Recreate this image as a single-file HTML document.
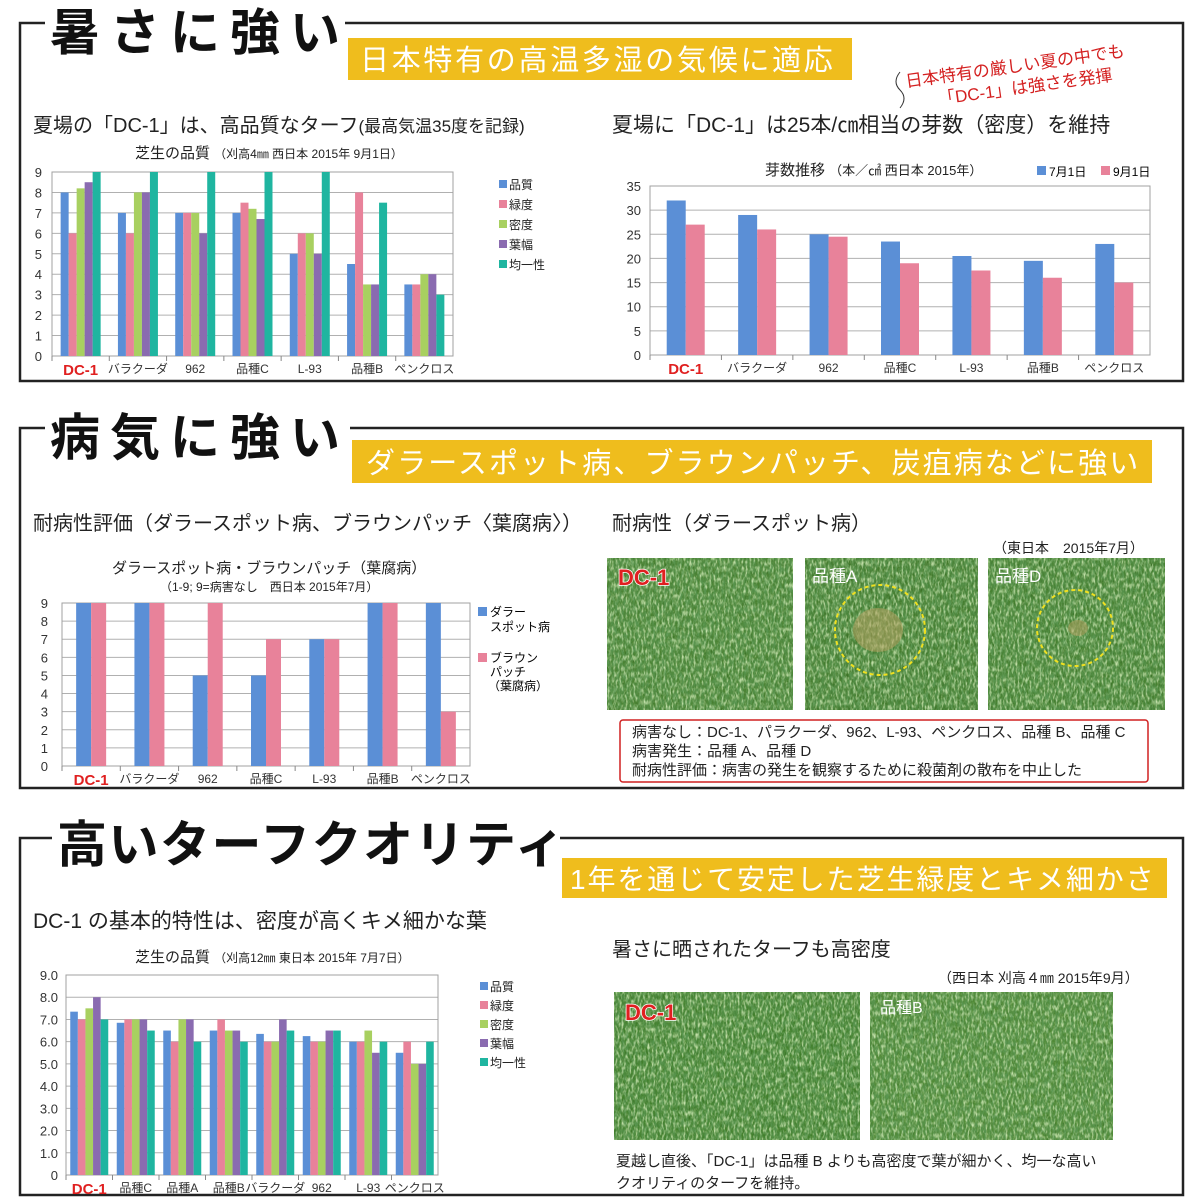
<!DOCTYPE html>
<html><head><meta charset="utf-8">
<style>
html,body{margin:0;padding:0;background:#fff;}
svg{display:block;font-family:"Liberation Sans","Noto Sans CJK JP",sans-serif;}
</style></head>
<body>
<svg id="s" width="1200" height="1200" viewBox="0 0 1200 1200" xmlns="http://www.w3.org/2000/svg">
<defs>
<filter id="grass" x="0" y="0" width="100%" height="100%">
<feTurbulence type="fractalNoise" baseFrequency="0.45 0.15" numOctaves="3" seed="4"/>
<feColorMatrix type="matrix" values="0 0 0 0 0.10  0 0 0 0 0.30  0 0 0 0 0.08  0 0 0 -2.2 1.6"/>
</filter>
<filter id="grassL" x="0" y="0" width="100%" height="100%">
<feTurbulence type="fractalNoise" baseFrequency="0.5 0.18" numOctaves="2" seed="11"/>
<feColorMatrix type="matrix" values="0 0 0 0 0.55  0 0 0 0 0.75  0 0 0 0 0.40  0 0 0 -2.5 1.4"/>
</filter>
<pattern id="blades" width="8" height="8" patternUnits="userSpaceOnUse">
<path d="M1 7 L3 1 M5 8 L6 3 M7 6 L8 2" stroke="#2f6120" stroke-width="0.8" opacity="0.5"/>
<path d="M2 4 L3 0 M6 7 L5 2" stroke="#8fc070" stroke-width="0.6" opacity="0.4"/>
</pattern>
</defs>
<rect x="20" y="23" width="1163" height="358" fill="none" stroke="#222" stroke-width="2.5"/>
<rect x="20" y="428" width="1163" height="360" fill="none" stroke="#222" stroke-width="2.5"/>
<rect x="20" y="838" width="1163" height="357" fill="none" stroke="#222" stroke-width="2.5"/>
<rect x="45" y="5" width="300" height="50" fill="#fff"/>
<rect x="45" y="405" width="305" height="60" fill="#fff"/>
<rect x="52" y="808" width="508" height="62" fill="#fff"/>
<text x="50" y="50" font-size="50" font-weight="bold" fill="#111" letter-spacing="10">暑さに強い</text>
<text x="50" y="455" font-size="50" font-weight="bold" fill="#111" letter-spacing="10">病気に強い</text>
<text x="57" y="862" font-size="50" font-weight="bold" fill="#111" letter-spacing="1.5">高いターフクオリティ</text>
<rect x="348" y="38" width="504" height="42" fill="#efbd1d"/>
<text x="360" y="70" font-size="29" fill="#fff" letter-spacing="2.7">日本特有の高温多湿の気候に適応</text>
<rect x="352" y="440" width="800" height="43" fill="#efbd1d"/>
<text x="366" y="473" font-size="29" fill="#fff" letter-spacing="2.1">ダラースポット病、ブラウンパッチ、炭疽病などに強い</text>
<rect x="562" y="858" width="605" height="40" fill="#efbd1d"/>
<text x="570" y="889" font-size="28" fill="#fff" letter-spacing="1.9">1年を通じて安定した芝生緑度とキメ細かさ</text>
<g transform="rotate(-8 1015 70)">
<text x="905" y="72" font-size="17" fill="#d42020">日本特有の厳しい夏の中でも</text>
<text x="935" y="94" font-size="17" fill="#d42020">「DC-1」は強さを発揮</text>
</g>
<path d="M900 72 q-8 10 0 18 q8 8 0 18" fill="none" stroke="#333" stroke-width="1"/>
<text x="33" y="132" font-size="20" fill="#222">夏場の「DC-1」は、高品質なターフ<tspan font-size="17">(最高気温35度を記録)</tspan></text>
<text x="612" y="132" font-size="21" fill="#222">夏場に「DC-1」は25本/㎝相当の芽数（密度）を維持</text>
<text x="135" y="158" font-size="15" fill="#222">芝生の品質 <tspan font-size="12">（刈高4㎜ 西日本 2015年 9月1日）</tspan></text>
<text x="765" y="175" font-size="15" fill="#222">芽数推移 <tspan font-size="13">（本／㎠ 西日本  2015年）</tspan></text>
<rect x="1037" y="166" width="9" height="9" fill="#5b8fd6"/><text x="1049" y="176" font-size="12">7月1日</text>
<rect x="1101" y="166" width="9" height="9" fill="#e8829a"/><text x="1113" y="176" font-size="12">9月1日</text>

<text x="33" y="530" font-size="20" fill="#222">耐病性評価（ダラースポット病、ブラウンパッチ〈葉腐病〉）</text>
<text x="112" y="573" font-size="15" fill="#222">ダラースポット病・ブラウンパッチ（葉腐病）</text>
<text x="160" y="591" font-size="12" fill="#222">（1-9; 9=病害なし　西日本  2015年7月）</text>
<text x="612" y="530" font-size="20" fill="#222">耐病性（ダラースポット病）</text>
<text x="993" y="553" font-size="14" fill="#222">（東日本　2015年7月）</text>

<text x="33" y="928" font-size="21" fill="#222">DC-1 の基本的特性は、密度が高くキメ細かな葉</text>
<text x="135" y="962" font-size="15" fill="#222">芝生の品質 <tspan font-size="12">（刈高12㎜ 東日本 2015年 7月7日）</tspan></text>
<text x="612" y="956" font-size="20" fill="#222">暑さに晒されたターフも高密度</text>
<text x="938" y="983" font-size="14" fill="#222">（西日本 刈高４㎜ 2015年9月）</text>

<rect x="478" y="607" width="9" height="9" fill="#5b8fd6"/><text x="490" y="616" font-size="12">ダラー</text><text x="490" y="631" font-size="12">スポット病</text>
<rect x="478" y="653" width="9" height="9" fill="#e8829a"/><text x="490" y="662" font-size="12">ブラウン</text><text x="490" y="676" font-size="12">パッチ</text><text x="488" y="690" font-size="12">（葉腐病）</text>

<g>
<rect x="607" y="558" width="186" height="152" fill="#4a8232"/><rect x="607" y="558" width="186" height="152" fill="url(#blades)"/><rect x="607" y="558" width="186" height="152" filter="url(#grass)"/><rect x="607" y="558" width="186" height="152" filter="url(#grassL)"/>
<rect x="805" y="558" width="173" height="152" fill="#447c2e"/><rect x="805" y="558" width="173" height="152" fill="url(#blades)"/><rect x="805" y="558" width="173" height="152" filter="url(#grass)"/><rect x="805" y="558" width="173" height="152" filter="url(#grassL)"/>
<rect x="988" y="558" width="177" height="152" fill="#468030"/><rect x="988" y="558" width="177" height="152" fill="url(#blades)"/><rect x="988" y="558" width="177" height="152" filter="url(#grass)"/><rect x="988" y="558" width="177" height="152" filter="url(#grassL)"/>
<ellipse cx="878" cy="630" rx="25" ry="22" fill="#b5a060" opacity="0.55"/>
<ellipse cx="1078" cy="628" rx="10" ry="8" fill="#b5a060" opacity="0.5"/>
<circle cx="880" cy="630" r="45" fill="none" stroke="#f0e020" stroke-width="2" stroke-dasharray="4 3"/>
<circle cx="1075" cy="628" r="38" fill="none" stroke="#f0e020" stroke-width="2" stroke-dasharray="4 3"/>
<text x="618" y="585" font-size="22" font-weight="bold" fill="#e02020" stroke="#fff" stroke-width="1.5" paint-order="stroke">DC-1</text>
<text x="812" y="582" font-size="17" fill="#fff">品種A</text>
<text x="995" y="582" font-size="17" fill="#fff">品種D</text>
<rect x="614" y="992" width="246" height="148" fill="#42802c"/><rect x="614" y="992" width="246" height="148" fill="url(#blades)"/><rect x="614" y="992" width="246" height="148" filter="url(#grass)"/><rect x="614" y="992" width="246" height="148" filter="url(#grassL)"/>
<rect x="870" y="992" width="243" height="148" fill="#518a36"/><rect x="870" y="992" width="243" height="148" fill="url(#blades)"/><rect x="870" y="992" width="243" height="148" filter="url(#grass)"/><rect x="870" y="992" width="243" height="148" filter="url(#grassL)"/>
<text x="625" y="1020" font-size="22" font-weight="bold" fill="#e02020" stroke="#fff" stroke-width="1.5" paint-order="stroke">DC-1</text>
<text x="880" y="1013" font-size="16" fill="#fff">品種B</text>
</g>
<rect x="620" y="720" width="528" height="62" fill="#fff" stroke="#d02020" stroke-width="1.5" rx="3"/>
<text x="632" y="737" font-size="15" fill="#222">病害なし：DC-1、パラクーダ、962、L-93、ペンクロス、品種 B、品種 C</text>
<text x="632" y="756" font-size="15" fill="#222">病害発生：品種 A、品種 D</text>
<text x="632" y="775" font-size="15" fill="#222">耐病性評価：病害の発生を観察するために殺菌剤の散布を中止した</text>
<text x="616" y="1166" font-size="15" fill="#222">夏越し直後、「DC-1」は品種 B よりも高密度で葉が細かく、均一な高い</text>
<text x="616" y="1188" font-size="15" fill="#222">クオリティのターフを維持。</text>
<g id="charts"></g>
</svg>
<script>
var NS="http://www.w3.org/2000/svg",G=document.getElementById("charts");
function el(t,a,txt){var e=document.createElementNS(NS,t);for(var k in a)e.setAttribute(k,a[k]);if(txt!=null)e.textContent=txt;G.appendChild(e);return e;}
var C=["#5b8fd6","#e8829a","#a8d060","#8a6bb0","#1fb5a0"];
function chart(o){
 var x0=o.x0,x1=o.x1,yt=o.yt,yb=o.yb,n=o.data.length,gw=(x1-x0)/n;
 var steps=o.max/o.step;
 for(var i=0;i<=steps;i++){var y=yb-(yb-yt)*i/steps;
  el("line",{x1:x0,x2:x1,y1:y,y2:y,stroke:"#b0b0b0","stroke-width":1});
  el("text",{x:o.lx,y:y+5,"font-size":13,fill:"#333","text-anchor":"end"},o.fmt?o.fmt(i*o.step):String(i*o.step));}
 el("rect",{x:x0,y:yt,width:x1-x0,height:yb-yt,fill:"none",stroke:"#a0a0a0"});
 for(var g=0;g<n;g++){var d=o.data[g],tot=d.length*o.bw,bx=x0+g*gw+(gw-tot)/2;
  for(var j=0;j<d.length;j++){var h=(yb-yt)*d[j]/o.max;
   el("rect",{x:bx+j*o.bw,y:yb-h,width:o.bw,height:h,fill:o.cols[j]});}
  el("line",{x1:x0+g*gw,x2:x0+g*gw,y1:yb,y2:yb+5,stroke:"#888"});
  var lab=o.labels[g],cx=x0+g*gw+gw/2;
  if(g==0)el("text",{x:cx,y:yb+19,"font-size":15,"font-weight":"bold",fill:"#e02020","text-anchor":"middle"},lab);
  else el("text",{x:cx,y:yb+17,"font-size":12,fill:"#333","text-anchor":"middle"},lab);}
 if(o.leg){o.leg.forEach(function(t,i){var y=o.ly+i*o.lsp;
  el("rect",{x:o.lgx,y:y-9,width:8,height:8,fill:C[i]});
  el("text",{x:o.lgx+10,y:y,"font-size":12,fill:"#222"},t);});}
}
var L5=["品質","緑度","密度","葉幅","均一性"];
chart({x0:52,x1:453,yt:172,yb:356,max:9,step:1,lx:42,bw:8,cols:C,
 data:[[8,6,8.2,8.5,9],[7,6,8,8,9],[7,7,7,6,9],[7,7.5,7.2,6.7,9],[5,6,6,5,9],[4.5,8,3.5,3.5,7.5],[3.5,3.5,4,4,3]],
 labels:["DC-1","バラクーダ","962","品種C","L-93","品種B","ペンクロス"],leg:L5,lgx:499,ly:189,lsp:20});
chart({x0:650,x1:1150,yt:186,yb:355,max:35,step:5,lx:641,bw:19,cols:[C[0],C[1]],
 data:[[32,27],[29,26],[25,24.5],[23.5,19],[20.5,17.5],[19.5,16],[23,15]],
 labels:["DC-1","バラクーダ","962","品種C","L-93","品種B","ペンクロス"]});
chart({x0:62,x1:470,yt:603,yb:766,max:9,step:1,lx:48,bw:15,cols:[C[0],C[1]],
 data:[[9,9],[9,9],[5,9],[5,7],[7,7],[9,9],[9,3]],
 labels:["DC-1","バラクーダ","962","品種C","L-93","品種B","ペンクロス"]});
chart({x0:66,x1:438,yt:975,yb:1175,max:9,step:1,lx:58,bw:7.6,cols:C,fmt:function(v){return v==0?"0":v.toFixed(1)},
 data:[[7.35,7,7.5,8,7],[6.85,7,7,7,6.5],[6.5,6,7,7,6],[6.5,7,6.5,6.5,6],[6.35,6,6,7,6.5],[6.25,6,6,6.5,6.5],[6,6,6.5,5.5,6],[5.5,6,5,5,6]],
 labels:["DC-1","品種C","品種A","品種B","バラクーダ","962","L-93","ペンクロス"],leg:L5,lgx:480,ly:991,lsp:19});
</script>
</body></html>
